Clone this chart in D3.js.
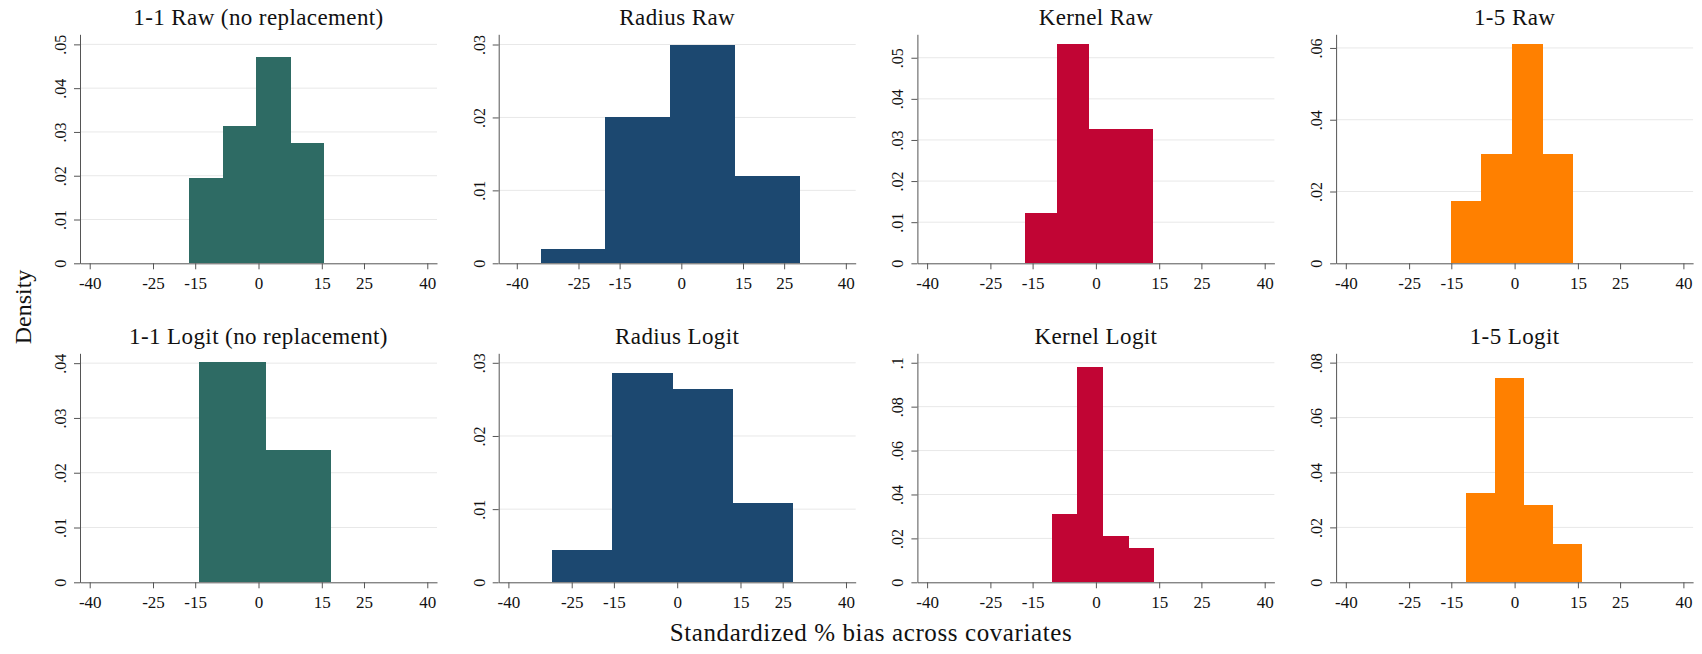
<!DOCTYPE html>
<html>
<head>
<meta charset="utf-8">
<script src="https://cdn.jsdelivr.net/npm/d3@7"></script>
<style>
  body { margin: 0; background: #fff; }
  text { font-family: "Palatino Linotype", "Book Antiqua", Palatino, "Liberation Serif", serif; fill: #111; }
</style>
</head>
<body>
<div id="chart"></div>
<script>

// panel titles, left-to-right then top-to-bottom
const titles = [
    "1-1 Raw (no replacement)", "Radius Raw", "Kernel Raw", "1-5 Raw",
    "1-1 Logit (no replacement)", "Radius Logit", "Kernel Logit", "1-5 Logit"
];
const colors = ["#2e6b64", "#1c4870", "#c10534", "#ff8000"];

// histogram bins: first edge, bin width, density per bin
const binStart = [-16.4, -34.2, -16.9, -15.15, -14.0, -29.65, -10.5, -11.4];
const binWidth = [7.95, 15.7, 7.6, 7.22, 15.55, 14.26, 6.06, 6.78];
const densities = [
    [0.0195, 0.0313, 0.0471, 0.0275],
    [0.002, 0.02, 0.03, 0.012],
    [0.0123, 0.0534, 0.0327, 0.0327],
    [0.0174, 0.0305, 0.0611, 0.0305],
    [0.0402, 0.0241],
    [0.0044, 0.0286, 0.0264, 0.0109],
    [0.0311, 0.098, 0.0209, 0.0154],
    [0.0324, 0.0744, 0.028, 0.0138]
];

// axis ranges and ticks
const xRange = [[-42.3, 42.3], [-44.4, 42.4], [-42.3, 42.3], [-42.3, 42.3],
                [-42.3, 42.3], [-42.3, 42.3], [-42.3, 42.3], [-42.3, 42.3]];
const xTicks = [-40, -25, -15, 0, 15, 25, 40];
const yMax = [0.0523, 0.0314, 0.0557, 0.0638, 0.0418, 0.0313, 0.1043, 0.0834];
const yTicks = [
    [0, 0.01, 0.02, 0.03, 0.04, 0.05],
    [0, 0.01, 0.02, 0.03],
    [0, 0.01, 0.02, 0.03, 0.04, 0.05],
    [0, 0.02, 0.04, 0.06],
    [0, 0.01, 0.02, 0.03, 0.04],
    [0, 0.01, 0.02, 0.03],
    [0, 0.02, 0.04, 0.06, 0.08, 0.1],
    [0, 0.02, 0.04, 0.06, 0.08]
];

const W = 1702, H = 654;
const plotW = 357, plotH = 229;
const left0 = 80, colStep = 418.7;
const rowTop = [34.3, 353.3];

const svg = d3.select("#chart").append("svg")
    .attr("width", W)
    .attr("height", H);

const fmtY = v => v === 0 ? "0" : String(v).replace(/^0\./, ".");

titles.forEach((title, i) => {
    const col = i % 4, row = Math.floor(i / 4);
    const g = svg.append("g")
        .attr("transform", "translate(" + (left0 + col * colStep) + "," + rowTop[row] + ")");

    const x = d3.scaleLinear().domain(xRange[i]).range([0, plotW]);
    const y = d3.scaleLinear().domain([0, yMax[i]]).range([plotH, 0]);

    // gridlines
    g.append("g")
        .selectAll("line")
        .data(yTicks[i].filter(d => d > 0))
        .join("line")
        .attr("x1", 0).attr("x2", plotW)
        .attr("y1", d => y(d)).attr("y2", d => y(d))
        .attr("stroke", "#e8e8e8")
        .attr("stroke-width", 1);

    const bins = densities[i].map((d, k) => ({
        x0: binStart[i] + k * binWidth[i],
        x1: binStart[i] + (k + 1) * binWidth[i],
        v: d
    }));

    g.append("g")
        .attr("shape-rendering", "crispEdges")
        .selectAll("rect")
        .data(bins)
        .join("rect")
        .attr("x", d => x(d.x0))
        .attr("width", d => x(d.x1) - x(d.x0) + 0.6)
        .attr("y", d => y(d.v))
        .attr("height", d => plotH - y(d.v))
        .attr("fill", colors[col]);

    // axes
    const xAxis = g.append("g")
        .attr("transform", "translate(0," + plotH + ")")
        .call(d3.axisBottom(x).tickValues(xTicks).tickSize(6).tickSizeOuter(0).tickFormat(d => String(d)));
    xAxis.attr("font-family", null);
    xAxis.select(".domain").attr("stroke", "#555");
    xAxis.selectAll(".tick line").attr("stroke", "#555");
    xAxis.selectAll(".tick text")
        .attr("y", 10)
        .attr("dy", "0.9em")
        .style("font-size", "17px")
        .attr("fill", "#111");

    const yAxis = g.append("g")
        .call(d3.axisLeft(y).tickValues(yTicks[i]).tickSize(6).tickSizeOuter(0).tickFormat(fmtY));
    yAxis.attr("font-family", null);
    yAxis.select(".domain").attr("stroke", "#555");
    yAxis.selectAll(".tick line").attr("stroke", "#555");
    yAxis.selectAll(".tick text")
        .attr("x", null).attr("dy", null)
        .attr("text-anchor", "middle")
        .attr("transform", "translate(-14,0) rotate(-90)")
        .style("font-size", "16px")
        .attr("fill", "#111");

    g.append("text")
        .attr("x", plotW / 2)
        .attr("y", -9)
        .attr("text-anchor", "middle")
        .style("font-size", "23px")
        .style("letter-spacing", "0.4px")
        .text(title);
});

svg.append("text")
    .attr("transform", "translate(31,307) rotate(-90)")
    .attr("text-anchor", "middle")
    .style("font-size", "24px")
    .text("Density");

svg.append("text")
    .attr("x", 871)
    .attr("y", 641)
    .attr("text-anchor", "middle")
    .style("font-size", "25px")
    .style("letter-spacing", "0.6px")
    .text("Standardized % bias across covariates");

</script>
</body>
</html>
